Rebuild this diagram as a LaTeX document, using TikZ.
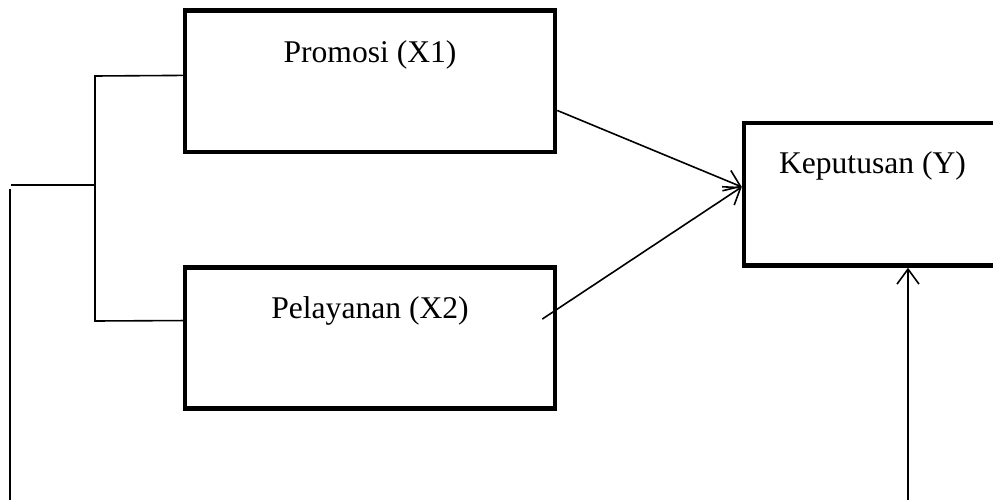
\documentclass[tikz,border=0pt]{standalone}
\usepackage{fontspec}
\setmainfont{Liberation Serif}
\usetikzlibrary{arrows.meta,calc}
\tikzset{
  varbox/.style={draw, line width=4.5pt, inner sep=0pt, align=center,
    font=\fontsize{31.6}{38}\selectfont},
  link/.style={line width=1.6pt},
  arr/.style={link, -{Straight Barb[length=15pt,width=22pt,line width=1.6pt]}}
}
\begin{document}
\begin{tikzpicture}[x=1pt,y=1pt]
\useasboundingbox (0,0) rectangle (993,-500);
\clip (0,0) rectangle (993,-500);
\node[varbox, minimum width=370pt, text height=52pt, text depth=89.5pt] (x1) at (370,-81.25) {Promosi (X1)};
\node[varbox, minimum width=370pt, text height=50.5pt, text depth=90.5pt] (x2) at (370,-338) {Pelayanan (X2)};
\node[varbox, minimum width=257pt, text height=50pt, text depth=92.5pt] (y) at (872.5,-194.25) {Keputusan (Y)};
\coordinate (j1) at (95,-76);
\coordinate (j2) at (95,-321);
\coordinate (jm) at (95,-185);
\coordinate (l0) at (11,-185);
\coordinate (l1) at (10,-189);
\coordinate (l2) at (10,-500);
\coordinate (r0) at (908,-500);
% bracket
\draw[link] ($(x1.north west)!0.46!(x1.south west)$) -- (j1) -- (j2) -- ($(x2.north west)!0.38!(x2.south west)$);
\draw[link] (jm) -- (l0);
\draw[link] (l1) -- (l2);
% arrows into Y
\draw[arr] ($(x1.north east)!0.70!(x1.south east)$) -- ($(y.north west)!0.45!(y.south west)$);
\draw[arr] ([xshift=-15pt]$(x2.north east)!0.37!(x2.south east)$) -- ($(y.north west)!0.45!(y.south west)$);
\draw[arr] (r0) -- (r0 |- y.south);
\end{tikzpicture}
\end{document}
